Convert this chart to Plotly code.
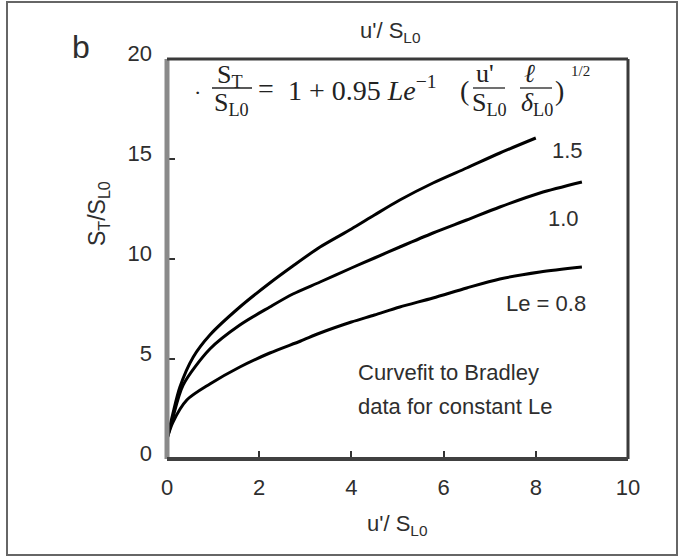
import plotly.graph_objects as go

# ---- data ----
u_le15 = [0, 0.12, 0.28, 0.57, 0.93, 1.58, 2.23, 2.73, 3.32, 4.0, 4.5, 5.05, 5.77, 6.5, 7.22, 8.0]
s_le15 = [1.0, 2.2, 3.6, 5.1, 6.2, 7.6, 8.8, 9.65, 10.6, 11.5, 12.2, 12.95, 13.8, 14.55, 15.3, 16.05]

u_le10 = [0, 0.12, 0.35, 0.93, 1.58, 2.23, 2.73, 3.32, 4.0, 4.5, 5.05, 5.77, 6.5, 7.22, 8.09, 9.0]
s_le10 = [1.0, 2.0, 3.7, 5.5, 6.7, 7.6, 8.25, 8.85, 9.55, 10.05, 10.6, 11.3, 11.95, 12.6, 13.3, 13.85]

u_le08 = [0, 0.12, 0.43, 0.93, 1.58, 2.23, 2.9, 3.32, 4.0, 4.5, 5.05, 5.77, 6.5, 7.22, 8.09, 9.0]
s_le08 = [1.0, 1.8, 2.95, 3.75, 4.6, 5.3, 5.9, 6.3, 6.85, 7.2, 7.6, 8.05, 8.55, 9.0, 9.35, 9.6]

x_ticks = [0, 2, 4, 6, 8, 10]
y_ticks = [0, 5, 10, 15, 20]
curve_labels = ["1.5", "1.0", "Le = 0.8"]

# ---- layout geometry (pixels) ----
W, H = 678, 557
L, R, T, B = 167, 628, 59, 459


def px(x):
    return (x - L) / (R - L)


def py(y):
    return (B - y) / (B - T)


SANS = "Liberation Sans, Arial, sans-serif"
SERIF = "Liberation Serif, Times New Roman, serif"
TXT = "#2e2e2e"

fig = go.Figure()
for u, s in [(u_le15, s_le15), (u_le10, s_le10), (u_le08, s_le08)]:
    fig.add_trace(go.Scatter(x=u, y=s, mode="lines", line=dict(color="black", width=3, shape="spline", smoothing=0.8),
                             showlegend=False, hoverinfo="skip"))

fig.update_layout(
    width=W, height=H,
    margin=dict(l=L, r=W - R, t=T, b=H - B),
    paper_bgcolor="white", plot_bgcolor="white",
    showlegend=False,
)
fig.update_xaxes(range=[0, 10], tickvals=x_ticks, ticktext=[str(v) for v in x_ticks],
                 ticks="inside", ticklen=8, tickwidth=2, tickcolor="#333",
                 showgrid=False, zeroline=False, showline=False,
                 tickfont=dict(family=SANS, size=22, color=TXT), ticklabelstandoff=13)
fig.update_yaxes(range=[0, 20], tickvals=y_ticks, ticktext=[str(v) for v in y_ticks],
                 ticks="inside", ticklen=8, tickwidth=2, tickcolor="#333",
                 showgrid=False, zeroline=False, showline=False,
                 tickfont=dict(family=SANS, size=22, color=TXT), ticklabelstandoff=14,
                 ticklabelshift=-6)

shapes = []
# outer frame
shapes.append(dict(type="rect", xref="paper", yref="paper", x0=px(7), x1=px(677), y0=py(555), y1=py(2),
                   line=dict(color="#666", width=2), layer="below"))
# axes box
shapes.append(dict(type="line", xref="paper", yref="paper", x0=0, x1=0, y0=0, y1=1, line=dict(color="#8a8a8a", width=5)))
shapes.append(dict(type="line", xref="paper", yref="paper", x0=1, x1=1, y0=0, y1=1, line=dict(color="#3a3a3a", width=3)))
shapes.append(dict(type="line", xref="paper", yref="paper", x0=0, x1=1, y0=1, y1=1, line=dict(color="#3a3a3a", width=3)))
shapes.append(dict(type="line", xref="paper", yref="paper", x0=0, x1=1, y0=0, y1=0, line=dict(color="#404040", width=4)))
# fraction bars of the equation
for x0, x1 in [(212, 252), (473, 505), (520, 552)]:
    shapes.append(dict(type="line", xref="paper", yref="paper", x0=px(x0), x1=px(x1), y0=py(88), y1=py(88),
                       line=dict(color="#222", width=1.3)))
fig.update_layout(shapes=shapes)

ann = []


def add(text, x, y, size, family=SANS, xanchor="center", yanchor="middle", color=TXT, angle=0):
    ann.append(dict(text=text, x=px(x), y=py(y), xref="paper", yref="paper", showarrow=False,
                    xanchor=xanchor, yanchor=yanchor, textangle=angle,
                    font=dict(family=family, size=size, color=color)))


add("b", 81, 47, 32)
add("u'/ S<sub>L0</sub>", 390, 32, 22)
add("u'/ S<sub>L0</sub>", 397, 525, 22)
add("S<sub>T</sub>/S<sub>L0</sub>", 99, 214, 23, angle=-90)

# curve labels
add(curve_labels[0], 567, 150, 22)
add(curve_labels[1], 563, 218, 22)
add(curve_labels[2], 546, 303, 22)

# note
add("Curvefit to Bradley", 356, 372, 22, xanchor="left")
add("data for constant Le", 356, 406, 22, xanchor="left")

# equation
EQ = "#222"
add("·", 197, 92, 22, SERIF, color=EQ)
add("S<sub>T</sub>", 230, 76, 26, SERIF, color=EQ)
add("S<sub>L0</sub>", 231, 104, 26, SERIF, color=EQ)
add("=", 266, 88, 28, SERIF, color=EQ)
add("1 + 0.95 <i>Le</i><sup>−1</sup>", 286, 89, 28, SERIF, xanchor="left", color=EQ)
add("(", 464, 91, 28, SERIF, color=EQ)
add("u'", 485, 74, 26, SERIF, color=EQ)
add("S<sub>L0</sub>", 489, 104, 26, SERIF, color=EQ)
add("<i>ℓ</i>", 529, 74, 26, SERIF, color=EQ)
add("<i>δ</i><sub>L0</sub>", 537, 104, 26, SERIF, color=EQ)
add(")", 559, 91, 28, SERIF, color=EQ)
add("1/2", 580, 71, 15, SERIF, color=EQ)

fig.update_layout(annotations=ann)
fig.write_html("out.html")
